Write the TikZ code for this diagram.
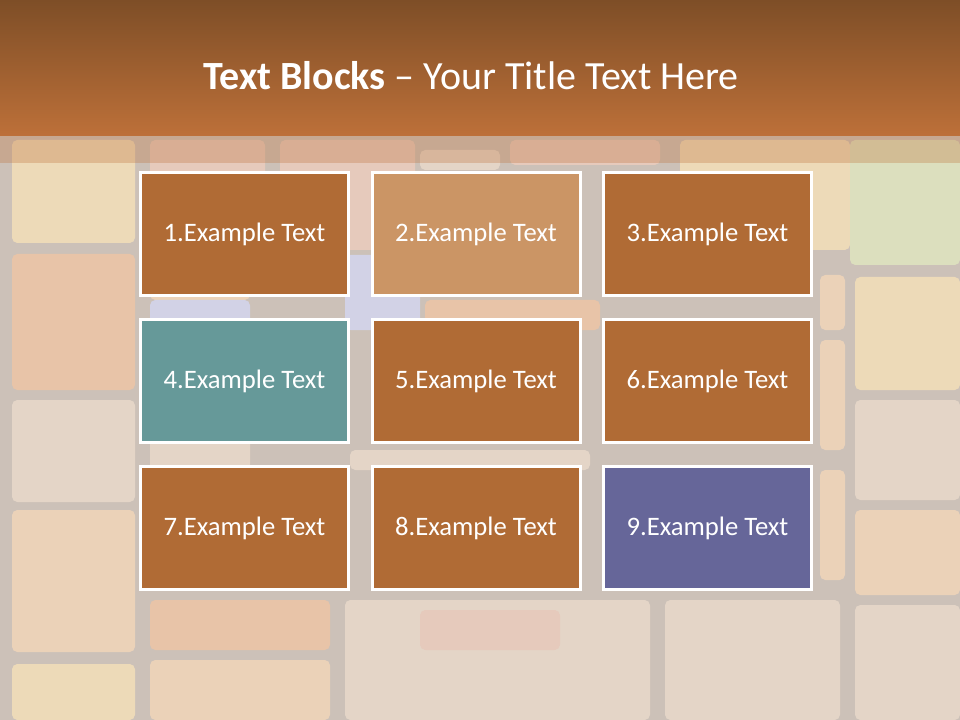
\documentclass[tikz,border=0pt]{standalone}
\usepackage{fontspec}
\setmainfont{Carlito}
\definecolor{leadgray}{HTML}{CCC1B8}
\definecolor{titletop}{HTML}{7E4E27}
\definecolor{titlebot}{HTML}{BD7039}
\definecolor{tpeach}{HTML}{EBD2B8}
\definecolor{torange}{HTML}{E8C4A8}
\definecolor{tyellow}{HTML}{EDDAB8}
\definecolor{tblue}{HTML}{D2D2E6}
\definecolor{tgreen}{HTML}{DCDFBE}
\definecolor{tbeige}{HTML}{E4D5C7}
\definecolor{tpink}{HTML}{E6CABC}
\definecolor{blockbrown}{HTML}{B06B35}
\definecolor{blocktan}{HTML}{CB9565}
\definecolor{blockteal}{HTML}{669999}
\definecolor{blockviolet}{HTML}{666699}
\begin{document}
\begin{tikzpicture}[x=0.75pt, y=-0.75pt, font=\fontsize{20}{24}\selectfont,
  block/.style={draw=white, line width=2.25pt, minimum width=156pt, minimum height=92.25pt, inner sep=0pt, text=white}]
\useasboundingbox (0,0) rectangle (960,720);
% faded glass background
\fill[leadgray] (0,0) rectangle (960,720);
\foreach \xa/\ya/\xb/\yb/\c in {12/140/135/243/tyellow, 12/254/135/390/torange, 12/400/135/502/tbeige,
  12/510/135/652/tpeach, 12/664/135/720/tyellow, 150/140/265/245/tpink, 150/255/250/300/tpeach,
  150/300/250/330/tblue, 150/340/250/470/tbeige, 150/480/265/590/tpeach, 150/600/330/650/torange,
  150/660/330/720/tpeach, 280/140/415/250/tpink, 345/255/420/330/tblue, 420/150/500/170/tbeige,
  510/140/660/165/tpink, 425/300/600/330/torange, 350/450/590/470/tbeige, 345/600/650/720/tbeige,
  420/610/560/650/tpink, 665/600/840/720/tbeige, 680/140/850/250/tyellow, 850/140/960/265/tgreen,
  820/275/845/330/tpeach, 855/277/960/390/tyellow, 820/340/845/450/tpeach, 855/400/960/500/tbeige,
  820/470/845/580/tpeach, 855/510/960/595/tpeach, 855/605/960/720/tbeige}
  \fill[\c, rounded corners=4] (\xa,\ya) rectangle (\xb,\yb);
% title bar
\shade[top color=titletop, bottom color=titlebot] (0,0) rectangle (960,136);
\fill[titlebot, opacity=0.3] (0,136) rectangle (960,163);
\node[text=white, font=\fontsize{30}{36}\selectfont] (title) at (471,76) {\textbf{Text Blocks} – Your Title Text Here};
% blocks
\foreach \n/\px/\py/\c in {1/244.5/234/blockbrown, 2/476/234/blocktan, 3/707.5/234/blockbrown,
  4/244.5/381/blockteal, 5/476/381/blockbrown, 6/707.5/381/blockbrown,
  7/244.5/528/blockbrown, 8/476/528/blockbrown, 9/707.5/528/blockviolet}
  \node[block, fill=\c] (b\n) at (\px,\py) {\n.Example Text};
\end{tikzpicture}
\end{document}
